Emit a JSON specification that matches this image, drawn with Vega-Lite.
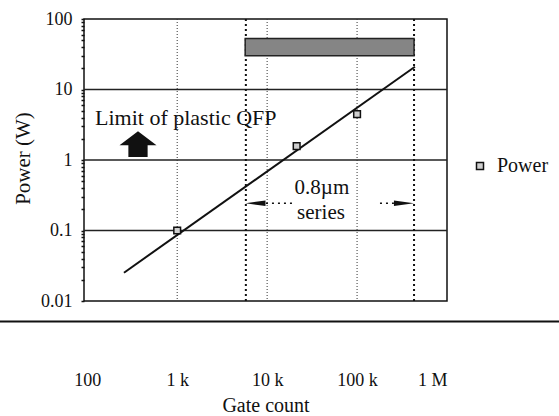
{
  "$schema": "https://vega.github.io/schema/vega-lite/v6.json",
  "width": 363,
  "height": 282,
  "autosize": {"type": "none"},
  "padding": {"left": 84, "top": 19, "right": 112, "bottom": 115},
  "background": "white",
  "config": {
    "view": {"stroke": "#111", "strokeWidth": 1.5},
    "font": "Liberation Serif",
    "axis": {"labelFont": "Liberation Serif", "titleFont": "Liberation Serif", "labelColor": "#111", "titleColor": "#111", "titleFontWeight": "normal"},
    "legend": {"labelFont": "Liberation Serif"}
  },
  "datasets": {
    "hgrid": [{"watts": 0.1}, {"watts": 1}, {"watts": 10}],
    "vgrid": [{"gates": 1000}, {"gates": 10000}, {"gates": 100000}],
    "bounds": [{"gates": 5800}, {"gates": 430000}],
    "band": [{"gates": 5700, "gates2": 430000, "watts": 30, "watts2": 53}],
    "fit": [{"gates": 256, "watts": 0.0252}, {"gates": 440000, "watts": 21}],
    "points": [
      {"gates": 1000, "watts": 0.1, "series": "Power"},
      {"gates": 21300, "watts": 1.57, "series": "Power"},
      {"gates": 100000, "watts": 4.47, "series": "Power"}
    ],
    "leftnotes": [
      {"gates": 122, "watts": 3.93, "label": "Limit of plastic QFP"}
    ],
    "centernotes": [
      {"gates": 40700, "watts": 0.3975, "label": "0.8µm"},
      {"gates": 39700, "watts": 0.1755, "label": "series"}
    ],
    "uparrow": [{"gates": 366.6, "watts": 1.677}],
    "heads": [
      {"gates": 7423, "watts": 0.2434, "dir": "left"},
      {"gates": 332000, "watts": 0.2434, "dir": "right"}
    ],
    "shafts": [
      {"gates": 9706, "gates2": 18900, "watts": 0.2434},
      {"gates": 179800, "gates2": 257000, "watts": 0.2434}
    ],
    "separator": [{"gates": 10, "gates2": 100000000, "watts": 0.00513}]
  },
  "layer": [
    {
      "data": {"name": "hgrid"},
      "mark": {"type": "rule", "color": "#222", "strokeWidth": 1.5},
      "encoding": {
        "y": {"field": "watts", "type": "quantitative", "scale": {"type": "log", "domain": [0.01, 100]}}
      }
    },
    {
      "data": {"name": "vgrid"},
      "mark": {"type": "rule", "color": "#333", "strokeWidth": 1, "strokeDash": [1, 2]},
      "encoding": {
        "x": {"field": "gates", "type": "quantitative", "scale": {"type": "log", "domain": [92, 1000000]}}
      }
    },
    {
      "data": {"name": "bounds"},
      "mark": {"type": "rule", "color": "#111", "strokeWidth": 2, "strokeDash": [2, 3]},
      "encoding": {
        "x": {"field": "gates", "type": "quantitative", "scale": {"type": "log", "domain": [92, 1000000]}}
      }
    },
    {
      "data": {"name": "band"},
      "mark": {"type": "rect", "fill": "#858585", "stroke": "#222", "strokeWidth": 1.5},
      "encoding": {
        "x": {"field": "gates", "type": "quantitative", "scale": {"type": "log", "domain": [92, 1000000]}},
        "x2": {"field": "gates2"},
        "y": {"field": "watts", "type": "quantitative", "scale": {"type": "log", "domain": [0.01, 100]}},
        "y2": {"field": "watts2"}
      }
    },
    {
      "data": {"name": "fit"},
      "mark": {"type": "line", "color": "#111", "strokeWidth": 2},
      "encoding": {
        "x": {"field": "gates", "type": "quantitative", "scale": {"type": "log", "domain": [92, 1000000]}},
        "y": {"field": "watts", "type": "quantitative", "scale": {"type": "log", "domain": [0.01, 100]}}
      }
    },
    {
      "data": {"name": "shafts"},
      "mark": {"type": "rule", "color": "#111", "strokeWidth": 1.5, "strokeDash": [2, 4]},
      "encoding": {
        "x": {"field": "gates", "type": "quantitative", "scale": {"type": "log", "domain": [92, 1000000]}},
        "x2": {"field": "gates2"},
        "y": {"field": "watts", "type": "quantitative", "scale": {"type": "log", "domain": [0.01, 100]}}
      }
    },
    {
      "data": {"name": "heads"},
      "mark": {"type": "point", "filled": true, "color": "#111", "size": 400, "opacity": 1},
      "encoding": {
        "x": {"field": "gates", "type": "quantitative", "scale": {"type": "log", "domain": [92, 1000000]}},
        "y": {"field": "watts", "type": "quantitative", "scale": {"type": "log", "domain": [0.01, 100]}},
        "shape": {"field": "dir", "type": "nominal", "scale": {"domain": ["left", "right"], "range": ["M-1,0L1,-0.28L1,0.28Z", "M1,0L-1,-0.28L-1,0.28Z"]}, "legend": null}
      }
    },
    {
      "data": {"name": "uparrow"},
      "mark": {"type": "point", "filled": true, "color": "#111", "size": 1369, "opacity": 1, "shape": "M0,-0.7L1,0.06L0.52,0.06L0.52,0.7L-0.52,0.7L-0.52,0.06L-1,0.06Z"},
      "encoding": {
        "x": {"field": "gates", "type": "quantitative", "scale": {"type": "log", "domain": [92, 1000000]}},
        "y": {"field": "watts", "type": "quantitative", "scale": {"type": "log", "domain": [0.01, 100]}}
      }
    },
    {
      "data": {"name": "leftnotes"},
      "mark": {"type": "text", "font": "Liberation Serif", "fontSize": 22, "color": "#111", "baseline": "middle", "align": "left"},
      "encoding": {
        "x": {"field": "gates", "type": "quantitative", "scale": {"type": "log", "domain": [92, 1000000]}},
        "y": {"field": "watts", "type": "quantitative", "scale": {"type": "log", "domain": [0.01, 100]}},
        "text": {"field": "label"}
      }
    },
    {
      "data": {"name": "centernotes"},
      "mark": {"type": "text", "font": "Liberation Serif", "fontSize": 21, "color": "#111", "baseline": "middle", "align": "center"},
      "encoding": {
        "x": {"field": "gates", "type": "quantitative", "scale": {"type": "log", "domain": [92, 1000000]}},
        "y": {"field": "watts", "type": "quantitative", "scale": {"type": "log", "domain": [0.01, 100]}},
        "text": {"field": "label"}
      }
    },
    {
      "data": {"name": "separator"},
      "mark": {"type": "rule", "color": "#111", "strokeWidth": 2, "clip": false},
      "encoding": {
        "x": {"field": "gates", "type": "quantitative", "scale": {"type": "log", "domain": [92, 1000000]}},
        "x2": {"field": "gates2"},
        "y": {"field": "watts", "type": "quantitative", "scale": {"type": "log", "domain": [0.01, 100]}}
      }
    },
    {
      "data": {"name": "points"},
      "mark": {"type": "point", "shape": "square", "filled": false, "fill": "#cfcfcf", "fillOpacity": 1, "size": 45, "strokeWidth": 1.5, "opacity": 1},
      "encoding": {
        "x": {
          "field": "gates", "type": "quantitative",
          "scale": {"type": "log", "domain": [92, 1000000]},
          "title": "Gate count",
          "axis": {
            "values": [100, 1000, 10000, 100000, 1000000],
            "labelExpr": "datum.value >= 1000000 ? '1 M' : datum.value >= 1000 ? format(datum.value / 1000, 'd') + ' k' : format(datum.value, 'd')",
            "domain": false, "ticks": false, "grid": false,
            "labelFontSize": 18, "labelPadding": 70, "labelOverlap": false,
            "titleFontSize": 20, "titlePadding": 6
          }
        },
        "y": {
          "field": "watts", "type": "quantitative",
          "scale": {"type": "log", "domain": [0.01, 100]},
          "title": "Power (W)",
          "axis": {
            "values": [0.01, 0.02, 0.03, 0.04, 0.05, 0.06, 0.07, 0.08, 0.09, 0.1, 0.2, 0.3, 0.4, 0.5, 0.6, 0.7, 0.8, 0.9, 1, 2, 3, 4, 5, 6, 7, 8, 9, 10, 20, 30, 40, 50, 60, 70, 80, 90, 100],
            "format": "~g",
            "labelExpr": "indexof(['0.01', '0.1', '1', '10', '100'], datum.label) >= 0 ? datum.label : ''",
            "domain": false, "grid": false, "tickSize": 3, "tickColor": "#111", "tickWidth": 1.5,
            "labelFontSize": 18, "labelPadding": 9, "labelOverlap": false,
            "titleFontSize": 21, "titleX": -61, "titleY": 139, "titleAngle": -90, "titleAlign": "center", "titleBaseline": "middle"
          }
        },
        "stroke": {
          "field": "series", "type": "nominal",
          "scale": {"range": ["#111"]},
          "legend": {
            "title": null, "orient": "none", "legendX": 386, "legendY": 137, "padding": 0,
            "symbolType": "square", "symbolSize": 49, "symbolFillColor": "#cfcfcf", "symbolStrokeWidth": 1.5, "symbolStrokeColor": "#111",
            "labelFontSize": 20, "labelColor": "#111", "labelOffset": 7
          }
        }
      }
    }
  ]
}
